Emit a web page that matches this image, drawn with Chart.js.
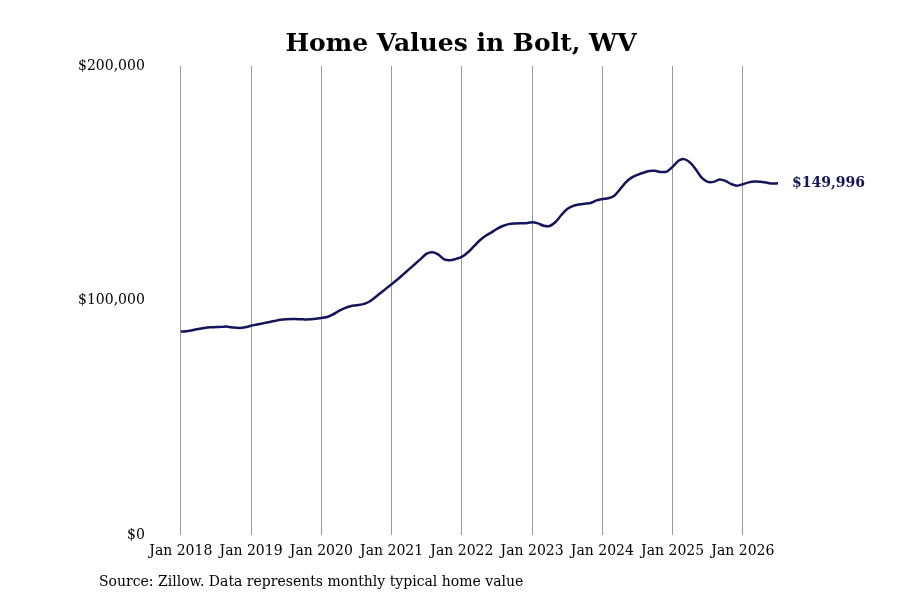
<!DOCTYPE html>
<html><head><meta charset="utf-8">
<script src="https://cdn.jsdelivr.net/npm/chart.js@4"></script>
<style>html,body{margin:0;padding:0;background:#fff}#w{width:900px;height:600px;position:relative}</style>
</head><body><div id="w"><canvas id="c" width="900" height="600"></canvas></div>
<script>
const startYear = 2018;
const values = [
86.8,86.9,87.4,87.9,88.3,88.6,88.7,88.8,88.9,88.5,88.3,88.6,
89.3,89.8,90.3,90.8,91.3,91.8,92.1,92.2,92.1,92.0,92.0,92.3,
92.6,93.0,94.1,95.6,96.8,97.6,98.0,98.4,99.3,101.0,103.0,105.0,
107.0,109.0,111.2,113.4,115.6,117.8,120.0,120.6,119.6,117.6,117.2,117.8,
118.6,120.5,123.0,125.5,127.5,129.0,130.6,131.8,132.6,132.9,133.0,133.0,
133.4,132.9,131.9,131.8,133.5,136.5,139.0,140.4,141.0,141.3,141.6,142.7,
143.3,143.6,144.6,147.4,150.4,152.4,153.6,154.5,155.2,155.3,154.8,155.0,
157.0,159.6,160.3,158.8,155.8,152.3,150.6,150.6,151.6,151.0,149.7,149.0,
149.6,150.4,150.8,150.7,150.3,149.9,149.996].map(v=>v*1000);
const monthNames = ['Jan','Feb','Mar','Apr','May','Jun','Jul','Aug','Sep','Oct','Nov','Dec'];
const labels = values.map((_,i)=>monthNames[i%12]+' '+(startYear+Math.floor(i/12)));
const yTicks = [0,100000,200000];
const title = 'Home Values in Bolt, WV';
const source = 'Source: Zillow. Data represents monthly typical home value';
const fmt = v => '$' + Math.round(v).toLocaleString('en-US');
const serif = "'DejaVu Serif', serif";

const extras = {
  id:'extras',
  afterDatasetsDraw(chart){
    const m = chart.getDatasetMeta(0); const p = m.data[m.data.length-1];
    const c = chart.ctx; c.save();
    c.font = "bold 14px " + serif; c.fillStyle = '#14145a';
    c.textBaseline='middle'; c.fillText(fmt(values[values.length-1]), p.x+14, p.y);
    c.font = "bold 25px " + serif; c.fillStyle='#000'; c.textAlign='center';
    c.fillText(title, 461, 44);
    c.textAlign='left';
    c.font = "14px " + serif; c.textBaseline='alphabetic';
    c.fillText(source, 99, 586);
    c.restore();
  }
};

new Chart(document.getElementById('c'), {
  type:'line',
  data:{labels, datasets:[{data:values, borderColor:'#14145a', borderWidth:2.5, pointRadius:0, tension:0.3, fill:false}]},
  options:{
    responsive:false, animation:false,
    layout:{padding:{left:42,right:122,top:66,bottom:32}},
    plugins:{legend:{display:false}, tooltip:{enabled:false}, title:{display:false}},
    scales:{
      x:{offset:false, border:{display:false},
         grid:{drawTicks:false, color:(ctx)=> (ctx.index%12===0 ? '#999' : 'rgba(0,0,0,0)'), lineWidth:1},
         ticks:{autoSkip:false, maxRotation:0, color:'#000', font:{family:serif,size:14}, padding:8,
           callback:(v,i)=> i%12===0 ? labels[i] : ''}},
      y:{min:0, max:200000, border:{display:false}, grid:{display:false, drawTicks:false},
         afterBuildTicks:(ax)=>{ax.ticks = yTicks.map(v=>({value:v}));},
         ticks:{color:'#000', font:{family:serif,size:14}, padding:36, callback:v=>fmt(v)}}
    }
  },
  plugins:[extras]
});
</script></body></html>
